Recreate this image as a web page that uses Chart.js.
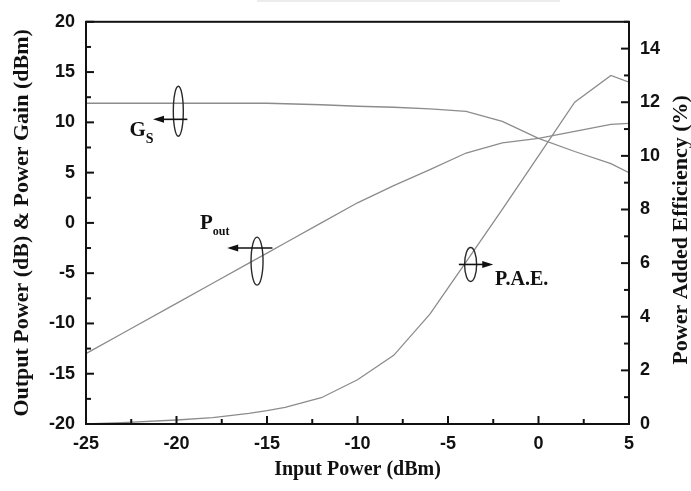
<!DOCTYPE html>
<html>
<head>
<meta charset="utf-8">
<script src="https://cdn.jsdelivr.net/npm/chart.js@4.4.1/dist/chart.umd.min.js"></script>
<style>
  body { margin: 0; background: #fff; }
  #wrap { position: relative; width: 691px; height: 491px; }
  #strip { position: absolute; left: 257px; top: 0; width: 303px; height: 2px; background: #ececec; }
</style>
</head>
<body>
<div id="wrap">
  <canvas id="paChart" width="691" height="491"></canvas>
  <div id="strip"></div>
</div>
<script>
// Input power sweep (dBm)
const inputPower = [-25, -23, -20, -18, -16, -15, -14, -12, -10, -8, -6, -4, -2, 0, 2, 4, 5];

// Power gain Gs (dB)
const gainValues = [11.9, 11.9, 11.9, 11.9, 11.9, 11.9, 11.85, 11.75, 11.6, 11.5, 11.35, 11.1, 10.1, 8.4, 7.1, 5.9, 5.0];

// Output power Pout (dBm)
const poutValues = [-13.0, -11.0, -8.0, -6.0, -4.0, -3.0, -2.0, 0.0, 2.0, 3.7, 5.3, 6.95, 7.95, 8.4, 9.1, 9.8, 9.9];

// Power added efficiency (%)
const paeValues = [0, 0.05, 0.15, 0.24, 0.4, 0.5, 0.62, 0.98, 1.65, 2.56, 4.1, 6.05, 8.0, 10.0, 12.0, 13.0, 12.75];

const lineColor = "#8c8c8c";
const inkColor = "#111";
const serif = "'Liberation Serif', 'Times New Roman', serif";
const sans = "'Liberation Sans', Arial, sans-serif";
const paeTitle = "Power Added Efficiency (%)";

const toPoints = (values) => inputPower.map((x, i) => ({ x: x, y: values[i] }));

// Frame plus tick marks that point into the plot
const frameTicks = {
  id: "frameTicks",
  afterDraw(chart) {
    const { ctx, chartArea: a, scales } = chart;
    ctx.save();
    ctx.strokeStyle = inkColor;
    ctx.lineWidth = 2;
    const seg = (x1, y1, x2, y2) => {
      ctx.beginPath();
      ctx.moveTo(x1, y1);
      ctx.lineTo(x2, y2);
      ctx.stroke();
    };
    scales.x.ticks.forEach(t => {
      const px = scales.x.getPixelForValue(t.value);
      const len = t.value % 5 === 0 ? 8 : 5;
      seg(px, a.bottom, px, a.bottom - len);
    });
    scales.y.ticks.forEach(t => {
      const py = scales.y.getPixelForValue(t.value);
      const len = t.value % 5 === 0 ? 8 : 5;
      seg(a.left, py, a.left + len, py);
    });
    scales.y1.ticks.forEach(t => {
      const py = scales.y1.getPixelForValue(t.value);
      const len = t.value % 2 === 0 ? 8 : 5;
      seg(a.right, py, a.right - len, py);
    });
    ctx.strokeRect(a.left, a.top, a.right - a.left, a.bottom - a.top);

    // right axis title, read bottom to top like the left one
    ctx.translate(681, (a.top + a.bottom) / 2 + 7);
    ctx.rotate(-Math.PI / 2);
    ctx.fillStyle = inkColor;
    ctx.font = "bold 22px " + serif;
    ctx.textAlign = "center";
    ctx.textBaseline = "middle";
    ctx.fillText(paeTitle, 0, 0);
    ctx.restore();
  }
};

// Curve markers: ellipse round a curve and an arrow towards its axis
const curveMarkers = {
  id: "curveMarkers",
  afterDatasetsDraw(chart) {
    const { ctx, scales } = chart;
    const sx = (v) => scales.x.getPixelForValue(v);
    const sy = (v) => scales.y.getPixelForValue(v);
    const sy1 = (v) => scales.y1.getPixelForValue(v);

    const ellipse = (cx, cy, rx, ry) => {
      ctx.beginPath();
      ctx.ellipse(cx, cy, rx, ry, 0, 0, Math.PI * 2);
      ctx.strokeStyle = "#2a2a2a";
      ctx.lineWidth = 1.4;
      ctx.stroke();
    };
    const arrow = (x1, x2, y) => {
      const dir = x2 > x1 ? 1 : -1;
      ctx.beginPath();
      ctx.moveTo(x1, y);
      ctx.lineTo(x2 - dir * 8, y);
      ctx.strokeStyle = inkColor;
      ctx.lineWidth = 1.6;
      ctx.stroke();
      ctx.beginPath();
      ctx.moveTo(x2, y);
      ctx.lineTo(x2 - dir * 11, y - 3.5);
      ctx.lineTo(x2 - dir * 11, y + 3.5);
      ctx.closePath();
      ctx.fillStyle = inkColor;
      ctx.fill();
    };
    const label = (text, sub, x, y, size, subSize) => {
      ctx.fillStyle = inkColor;
      ctx.textBaseline = "alphabetic";
      ctx.textAlign = "left";
      ctx.font = "bold " + size + "px " + serif;
      ctx.fillText(text, x, y);
      if (sub) {
        const w = ctx.measureText(text).width;
        ctx.font = "bold " + subSize + "px " + serif;
        ctx.fillText(sub, x + w, y + size * 0.3);
      }
    };

    ctx.save();
    // Gs
    ellipse(sx(-19.9), sy(11.1), 5, 25);
    arrow(sx(-19.4), sx(-21.3), sy(10.3));
    label("G", "S", sx(-22.6), sy(8.6), 21, 14);
    // Pout
    ellipse(sx(-15.55), sy(-3.8), 6, 24);
    arrow(sx(-14.7), sx(-17.2), sy(-2.5));
    label("P", "out", sx(-18.7), sy(-0.6), 21, 12);
    // P.A.E.
    ellipse(sx(-3.75), sy1(5.95), 6, 17);
    arrow(sx(-4.4), sx(-2.5), sy1(5.95));
    label("P.A.E.", "", sx(-2.4), sy1(5.2), 20, 0);
    ctx.restore();
  }
};

const ctx = document.getElementById("paChart").getContext("2d");
const myChart = new Chart(ctx, {
  type: "line",
  data: {
    datasets: [
      { label: "Gs", data: toPoints(gainValues), yAxisID: "y" },
      { label: "Pout", data: toPoints(poutValues), yAxisID: "y" },
      { label: "P.A.E.", data: toPoints(paeValues), yAxisID: "y1" }
    ].map(d => Object.assign(d, {
      borderColor: lineColor,
      borderWidth: 1.3,
      pointRadius: 0,
      tension: 0,
      fill: false
    }))
  },
  options: {
    responsive: false,
    animation: false,
    layout: { padding: { top: 20, left: 0, right: 0, bottom: 0 } },
    plugins: {
      legend: { display: false },
      tooltip: { enabled: false }
    },
    scales: {
      x: {
        type: "linear",
        min: -25,
        max: 5,
        grid: { display: false, drawTicks: false },
        border: { display: false },
        ticks: {
          stepSize: 2.5,
          padding: 9,
          color: inkColor,
          font: { family: sans, size: 18, weight: "bold" },
          callback: (v) => (v % 5 === 0 ? v : "")
        },
        title: {
          display: true,
          text: "Input Power (dBm)",
          color: inkColor,
          font: { family: serif, size: 20, weight: "bold" },
          padding: { top: 0, bottom: 9 }
        },
        afterFit: (s) => { s.height = 67; }
      },
      y: {
        position: "left",
        min: -20,
        max: 20,
        grid: { display: false, drawTicks: false },
        border: { display: false },
        ticks: {
          stepSize: 2.5,
          padding: 11,
          color: inkColor,
          font: { family: sans, size: 18, weight: "bold" },
          callback: (v) => (v % 5 === 0 ? v : "")
        },
        title: {
          display: true,
          text: "Output Power (dB) & Power Gain (dBm)",
          color: inkColor,
          font: { family: serif, size: 22, weight: "bold" },
          padding: { top: 9, bottom: 0 }
        },
        afterFit: (s) => { s.width = 86; }
      },
      y1: {
        position: "right",
        min: 0,
        max: 15,
        grid: { display: false, drawTicks: false },
        border: { display: false },
        ticks: {
          stepSize: 1,
          padding: 11,
          color: inkColor,
          font: { family: sans, size: 18, weight: "bold" },
          callback: (v) => (v % 2 === 0 ? v : "")
        },
        title: { display: false },
        afterFit: (s) => { s.width = 62; }
      }
    }
  },
  plugins: [frameTicks, curveMarkers]
});
</script>
</body>
</html>
